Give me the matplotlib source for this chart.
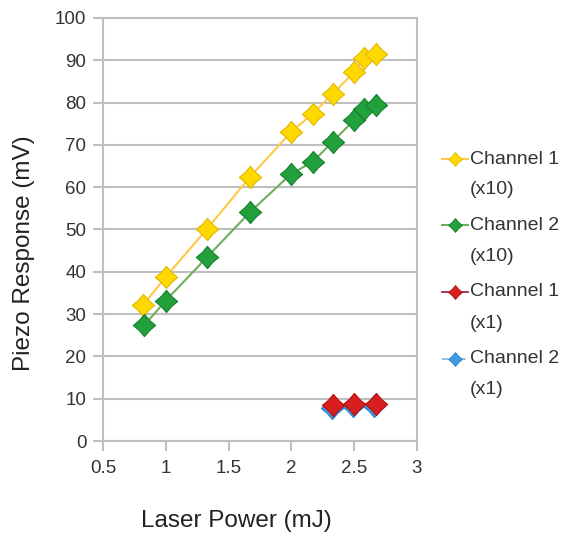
import matplotlib
matplotlib.use("Agg")
import matplotlib.pyplot as plt
from matplotlib.path import Path
from matplotlib.lines import Line2D
import numpy as np

plt.rcParams['font.family'] = ['Liberation Sans', 'DejaVu Sans']

# Channel 1 (x10)
ch1_x10_x = [0.82, 1.0, 1.33, 1.67, 2.0, 2.17, 2.33, 2.5, 2.58, 2.67]
ch1_x10_y = [32.2, 38.8, 50.2, 62.4, 73.1, 77.4, 82.1, 87.2, 90.6, 91.5]
# Channel 2 (x10)
ch2_x10_x = [0.83, 1.0, 1.33, 1.67, 2.0, 2.17, 2.33, 2.5, 2.58, 2.67]
ch2_x10_y = [27.4, 33.2, 43.5, 54.1, 63.2, 66.0, 70.8, 75.9, 78.4, 79.4]
# Channel 1 (x1)
ch1_x1_x = [2.33, 2.5, 2.67]
ch1_x1_y = [8.4, 8.7, 8.8]
# Channel 2 (x1)
ch2_x1_x = [2.32, 2.49, 2.66]
ch2_x1_y = [7.9, 8.2, 8.3]

names = ["Channel 1", "Channel 2", "Channel 1", "Channel 2"]
gains = ["(x10)", "(x10)", "(x1)", "(x1)"]

# chunky four-point star, like the excel marker
a = 0.46
star = Path([(0, 1), (a, a), (1, 0), (a, -a), (0, -1), (-a, -a), (-1, 0), (-a, a), (0, 1)],
            [Path.MOVETO] + [Path.LINETO] * 7 + [Path.CLOSEPOLY])

fig = plt.figure(figsize=(5.69, 5.40), dpi=100)
ax = fig.add_axes([103 / 569, 99 / 540, 314 / 569, 423 / 540])

ms = 16
styles = [
    dict(color='#FFC845', lw=1.5, mfc='#FFD800', mec='#E0B800'),
    dict(color='#6DAE5A', lw=1.5, mfc='#22A03C', mec='#16802C'),
    dict(color='#8B1E2E', lw=1.2, mfc='#D81E1E', mec='#B01010'),
    dict(color='#7DB8E8', lw=1.2, ls='--', mfc='#3F9BE0', mec='#2A80C8'),
]
ax.plot(ch1_x10_x, ch1_x10_y, marker=star, ms=ms, mew=0.8, zorder=4, **styles[0])
ax.plot(ch2_x10_x, ch2_x10_y, marker=star, ms=ms, mew=0.8, zorder=4, **styles[1])
ax.plot(ch2_x1_x, ch2_x1_y, marker=star, ms=ms, mew=0.8, zorder=3, **styles[3])
ax.plot(ch1_x1_x, ch1_x1_y, marker=star, ms=ms, mew=0.8, zorder=5, **styles[2])

ax.set_xlim(0.5, 3)
ax.set_ylim(0, 100)
ax.set_xticks(np.arange(0.5, 3.01, 0.5))
ax.set_xticklabels(['0.5', '1', '1.5', '2', '2.5', '3'])
ax.set_yticks(np.arange(0, 101, 10))

ax.yaxis.grid(True, color='#BFBFBF', lw=1.5)
ax.set_axisbelow(True)
for s in ax.spines.values():
    s.set_color('#BFBFBF')
    s.set_linewidth(1.5)
ax.tick_params(colors='#BFBFBF', labelcolor='#333333', length=7, width=1.5, labelsize=13.5)
ax.tick_params(axis='x', pad=7)
ax.tick_params(axis='y', pad=5)

ax.set_xlabel("Laser Power (mJ)", fontsize=17.5, color='#222222')
ax.xaxis.set_label_coords(0.425, -0.163)
ax.set_ylabel("Piezo Response (mV)", fontsize=17.5, color='#222222')
ax.yaxis.set_label_coords(-0.215, 0.445)

# legend drawn by hand: handle sits on the first line of each label
W, H = 569, 540
for i in range(4):
    y = 159 + 66.5 * i
    fy = 1 - y / H
    fig.add_artist(Line2D([442 / W, 468 / W], [fy, fy], transform=fig.transFigure,
                          marker=star, markevery=[], **styles[i]))
    fig.add_artist(Line2D([455 / W], [fy], transform=fig.transFigure, marker=star, ms=10,
                          mew=0.6, ls='none', mfc=styles[i]['mfc'], mec=styles[i]['mec']))
    fig.text(470 / W, fy, names[i], fontsize=14, color='#333333', va='center', ha='left')
    fig.text(470 / W, 1 - (y + 31) / H, gains[i], fontsize=14, color='#333333', va='center', ha='left')

fig.savefig("out.png", dpi=100)
